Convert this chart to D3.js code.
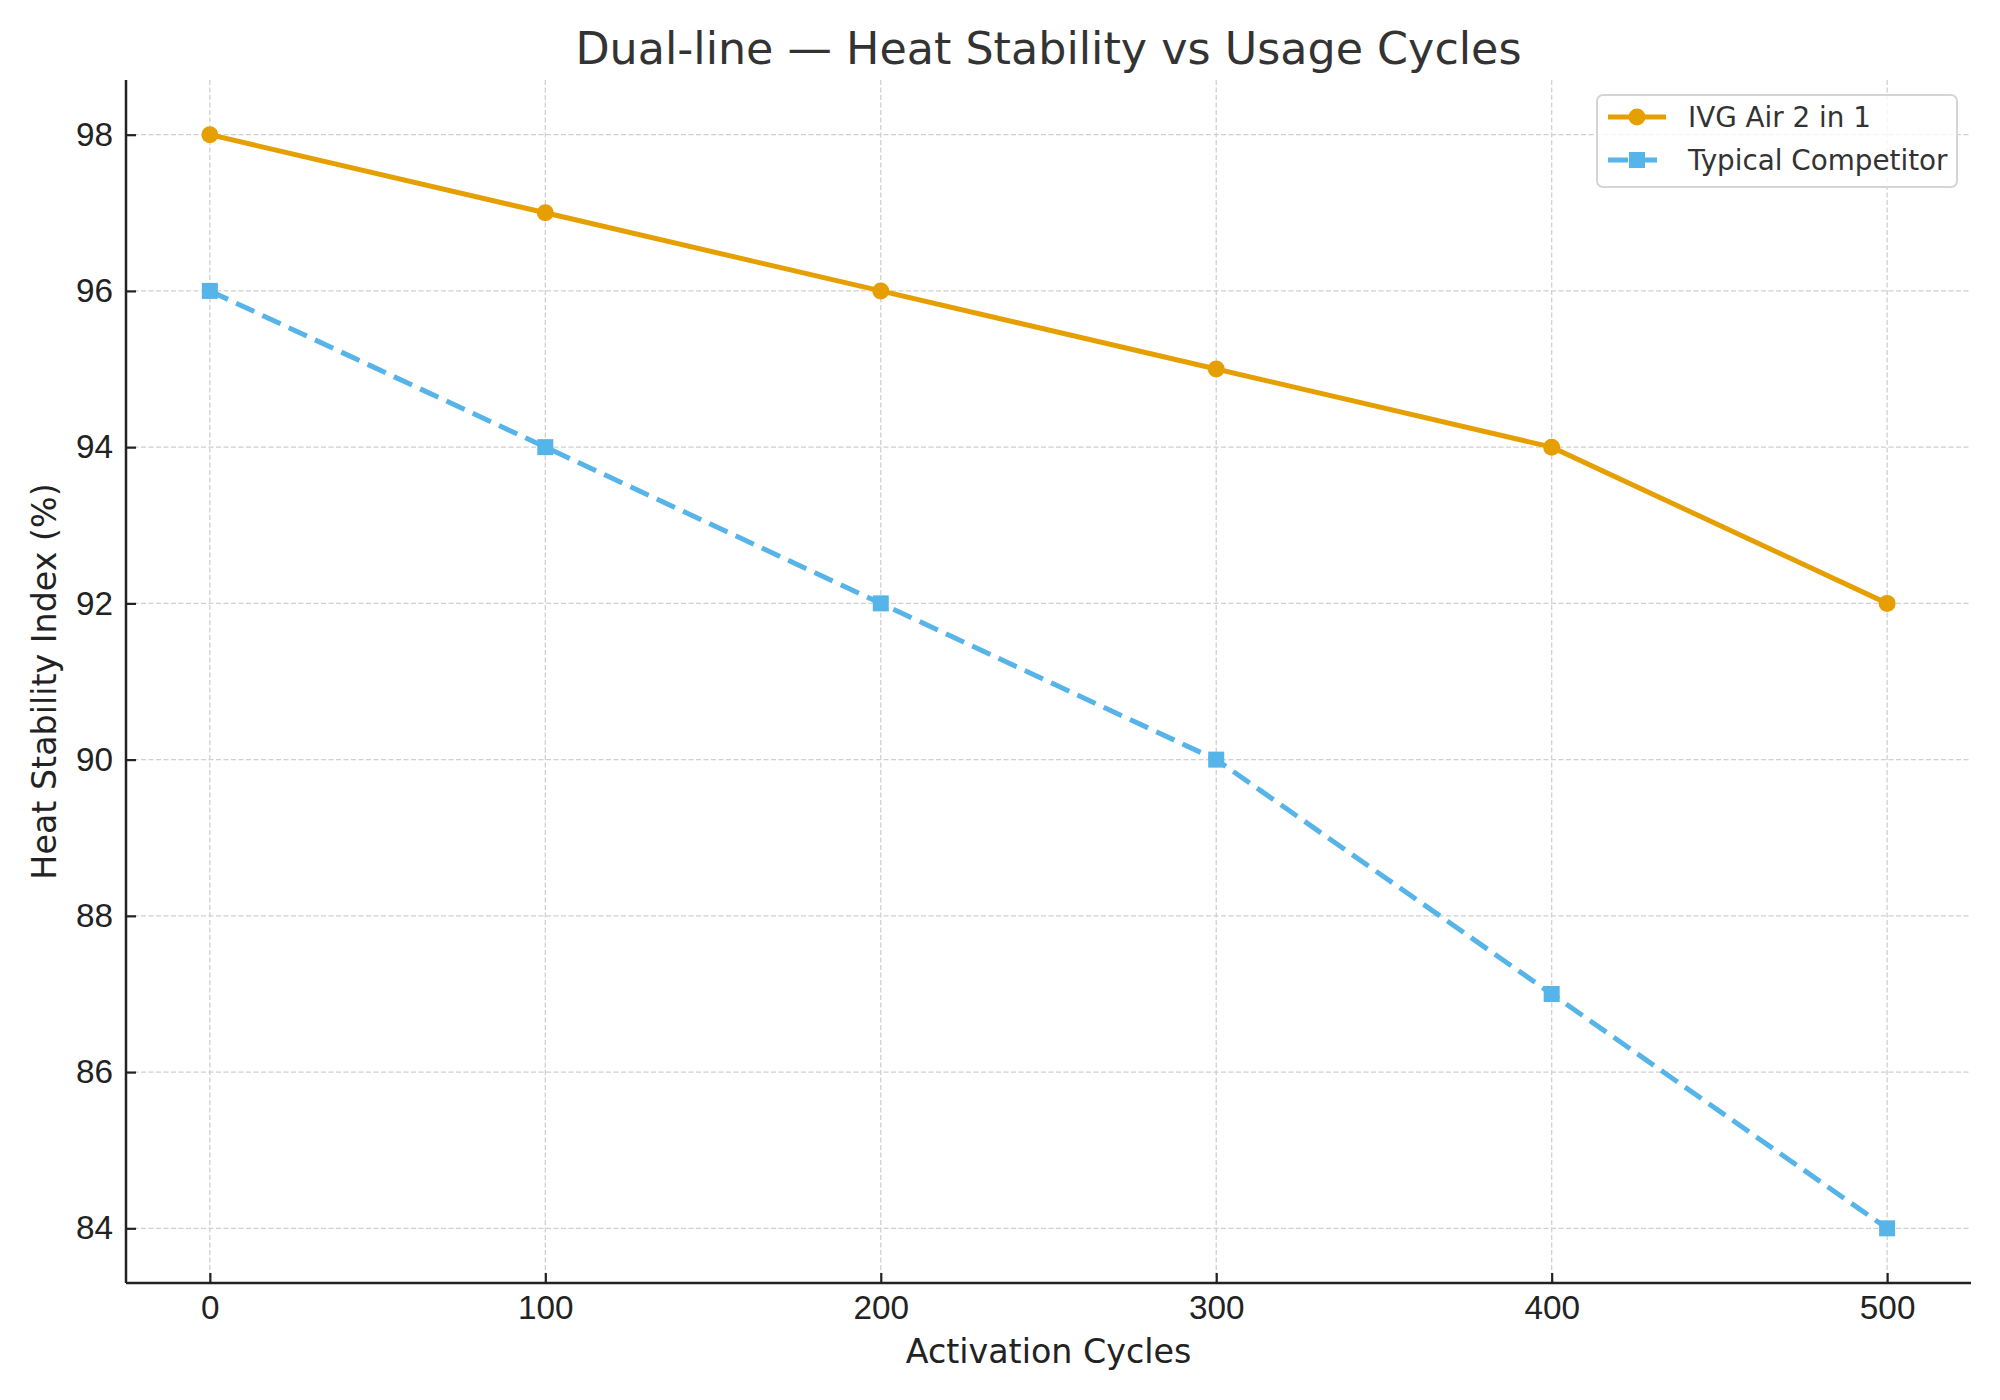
<!DOCTYPE html>
<html>
<meta charset="utf-8">
<head>
  <title>Dual-line heat stability</title>
  <script src="https://cdnjs.cloudflare.com/ajax/libs/d3/7.8.5/d3.min.js"></script>
</head>
<style>
body { margin: 0; background: #fff; }
svg { font-family: "DejaVu Sans", sans-serif; }
.grid line {
  stroke: #d0d0d0;
  stroke-width: 1.3px;
  stroke-dasharray: 5,2.5;
}
.axis path, .axis line { stroke: #222; }
.axis path { stroke-width: 2.5px; }
.axis line { stroke-width: 2.2px; }
.axis text { font-size: 33.3px; fill: #222; }
</style>
<body>
<script>

// data
var cycles = [0, 100, 200, 300, 400, 500]
var ivgAir = [98, 97, 96, 95, 94, 92]
var competitor = [96, 94, 92, 90, 87, 84]
var seriesNames = ["IVG Air 2 in 1", "Typical Competitor"]
var xTicks = [0, 100, 200, 300, 400, 500]
var yTicks = [84, 86, 88, 90, 92, 94, 96, 98]

var width = 2000,
    height = 1400,
    margin = {top: 80, right: 29, bottom: 117, left: 126};

var orange = "#E69F00",
    blue = "#56B4E9";

var svg = d3.select("body").append("svg")
    .attr("width", width)
    .attr("height", height)

var x = d3.scaleLinear()
    .domain([-25, 525])
    .range([margin.left, width - margin.right]);

var y = d3.scaleLinear()
    .domain([83.3, 98.7])
    .range([height - margin.bottom, margin.top]);

// grid
var grid = svg.append("g").attr("class", "grid")
grid.selectAll(".gx")
  .data(xTicks)
  .enter().append("line")
    .attr("x1", function(d) { return x(d) })
    .attr("x2", function(d) { return x(d) })
    .attr("y1", margin.top)
    .attr("y2", height - margin.bottom)
grid.selectAll(".gy")
  .data(yTicks)
  .enter().append("line")
    .attr("x1", margin.left)
    .attr("x2", width - margin.right)
    .attr("y1", function(d) { return y(d) })
    .attr("y2", function(d) { return y(d) })

// axes, ticks pointing inward
var xAxis = svg.append("g")
    .attr("class", "axis")
    .attr("transform", "translate(0," + (height - margin.bottom) + ")")
    .call(d3.axisBottom(x).tickValues(xTicks).tickSizeInner(-10).tickSizeOuter(0).tickPadding(12))
xAxis.select(".domain").attr("d", "M" + margin.left + ",0H" + (width - margin.right))

var yAxis = svg.append("g")
    .attr("class", "axis")
    .attr("transform", "translate(" + margin.left + ",0)")
    .call(d3.axisLeft(y).tickValues(yTicks).tickSizeInner(-10).tickSizeOuter(0).tickPadding(13))
yAxis.select(".domain").attr("d", "M0," + margin.top + "V" + (height - margin.bottom))

// lines
var line = d3.line()
  .x(function(d, i) { return x(cycles[i]) })
  .y(function(d) { return y(d) })

svg.append("path")
  .datum(ivgAir)
  .attr("d", line)
  .attr("fill", "none")
  .attr("stroke", orange)
  .attr("stroke-width", 5)

svg.append("path")
  .datum(competitor)
  .attr("d", line)
  .attr("fill", "none")
  .attr("stroke", blue)
  .attr("stroke-width", 5)
  .attr("stroke-dasharray", "20,9")

svg.selectAll(".dot")
  .data(ivgAir)
  .enter().append("circle")
    .attr("cx", function(d, i) { return x(cycles[i]) })
    .attr("cy", function(d) { return y(d) })
    .attr("r", 8.5)
    .attr("fill", orange)

svg.selectAll(".sq")
  .data(competitor)
  .enter().append("rect")
    .attr("x", function(d, i) { return x(cycles[i]) - 8 })
    .attr("y", function(d) { return y(d) - 8 })
    .attr("width", 16)
    .attr("height", 16)
    .attr("fill", blue)

// title and labels
svg.append("text")
  .attr("x", (margin.left + width - margin.right) / 2)
  .attr("y", 64)
  .attr("text-anchor", "middle")
  .attr("font-size", 44.4)
  .attr("fill", "#333")
  .text("Dual-line — Heat Stability vs Usage Cycles")

svg.append("text")
  .attr("x", (margin.left + width - margin.right) / 2)
  .attr("y", 1363)
  .attr("text-anchor", "middle")
  .attr("font-size", 33.3)
  .attr("fill", "#222")
  .text("Activation Cycles")

svg.append("text")
  .attr("transform", "translate(56," + ((margin.top + height - margin.bottom) / 2) + ") rotate(-90)")
  .attr("text-anchor", "middle")
  .attr("font-size", 33.3)
  .attr("fill", "#222")
  .text("Heat Stability Index (%)")

// legend
var legend = svg.append("g").attr("transform", "translate(1597,95)")
legend.append("rect")
  .attr("width", 360)
  .attr("height", 92)
  .attr("rx", 6)
  .attr("fill", "#fff")
  .attr("fill-opacity", 0.8)
  .attr("stroke", "#d5d5d5")
  .attr("stroke-width", 2)

var items = legend.selectAll(".item")
  .data(seriesNames)
  .enter().append("g")
    .attr("transform", function(d, i) { return "translate(0," + (22 + i * 43) + ")" })

items.append("line")
  .attr("x1", 11).attr("x2", 69)
  .attr("stroke", function(d, i) { return i ? blue : orange })
  .attr("stroke-width", 5)
  .attr("stroke-dasharray", function(d, i) { return i ? "20,9" : null })
items.filter(function(d, i) { return i == 0 }).append("circle")
  .attr("cx", 40).attr("r", 8.5).attr("fill", orange)
items.filter(function(d, i) { return i == 1 }).append("rect")
  .attr("x", 32).attr("y", -8).attr("width", 16).attr("height", 16).attr("fill", blue)
items.append("text")
  .attr("x", 91)
  .attr("dy", "0.35em")
  .attr("font-size", 27.8)
  .attr("fill", "#333")
  .text(function(d) { return d })

</script>
</body>
</html>
